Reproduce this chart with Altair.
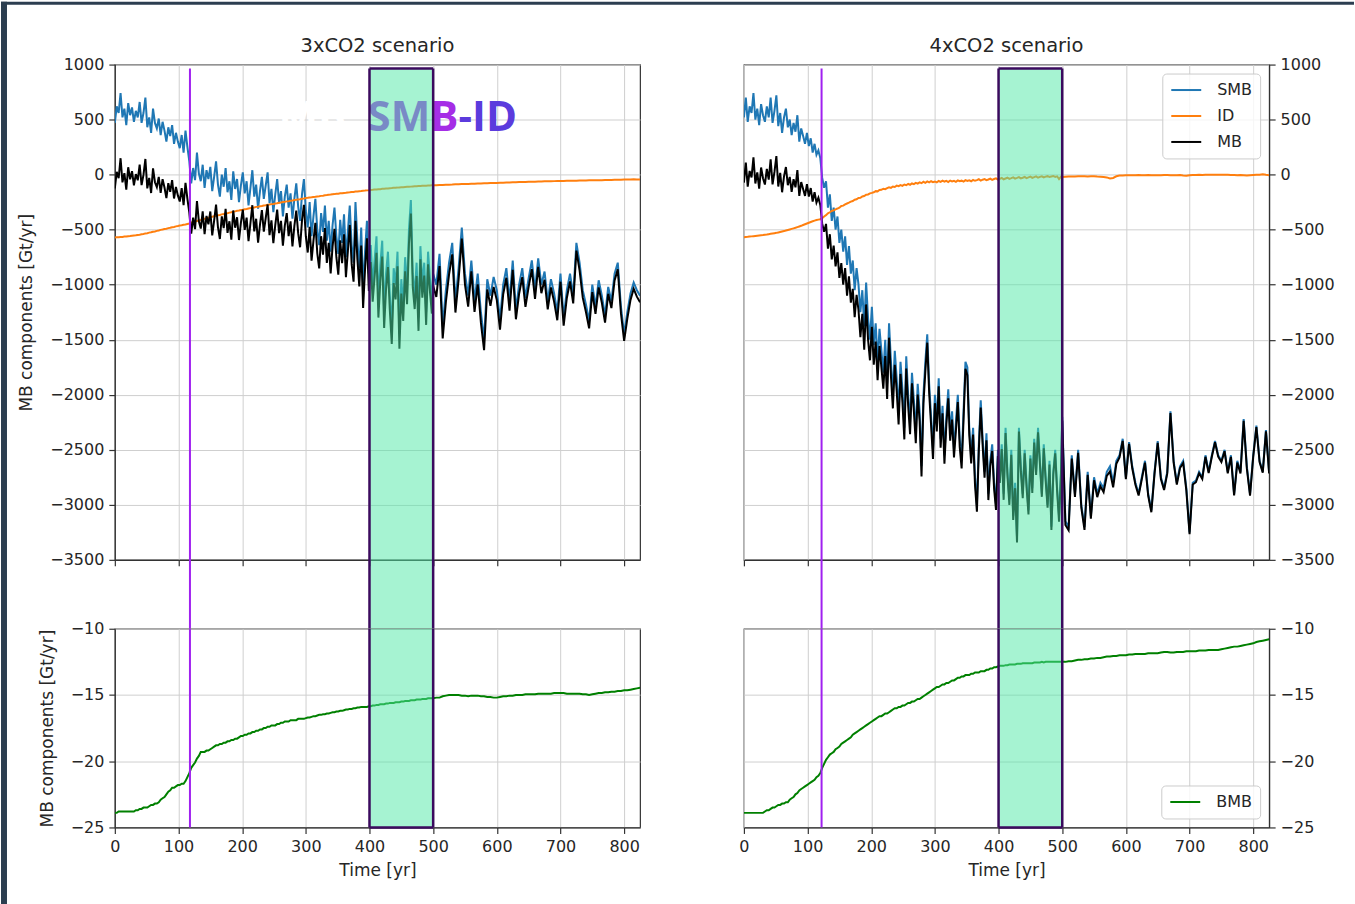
import altair as alt
import pandas as pd

# Model output years: every 3 years up to 498, every 5 years afterwards
years = list(range(0, 499, 3)) + list(range(500, 826, 5))

# ---------------- 3xCO2 scenario (Gt/yr) ----------------
smb_3x = [
    470, 620, 560, 740, 520, 600, 450, 650, 540, 610,
    480, 580, 520, 660, 470, 560, 700, 430, 520, 380,
    600, 470, 420, 510, 360, 480, 400, 300, 430, 350,
    450, 280, 380, 300, 240, 360, 200, 400, 250, 120,
    -80, 60, -50, 200, 10, -60, 90, -120, 40, -40,
    70, -150, -20, 120, -90, -200, 0, -110, 60, -160,
    -60, -230, 30, -130, -40, -250, -100, 20, -170, -60,
    -280, -120, 40, -200, -90, -310, -150, -20, -220, -100,
    20, -260, -130, -340, -180, -40, -260, -150, -380, -200,
    -90, -300, -170, -400, -220, -80, -290, -420, -180, -40,
    -330, -480, -250, -560, -380, -220, -500, -640, -350, -520,
    -280, -600, -420, -700, -460, -300, -560, -720, -410, -620,
    -360, -750, -520, -280, -640, -800, -250, -600, -850, -480,
    -1050, -700, -420, -900, -640, -1000, -780, -560, -1150, -820,
    -600, -1250, -900, -700, -1100, -1400, -850, -1000, -700, -1450,
    -950, -1200, -750, -1050, -500, -230, -900, -1100, -800, -1300,
    -650, -1000, -800, -1250, -700, -950, -1150,
    -900, -1000, -720, -1380, -1050, -800, -620, -1150, -850, -480,
    -900, -1100, -780, -1150, -900, -1250, -1500, -950, -1100, -930,
    -1050, -1320, -1000, -850, -1150, -780, -1230, -1000, -850, -1120,
    -940, -780, -1050, -760, -1000, -880, -1150, -950, -1080, -1250,
    -900, -1300, -1050, -900, -1100, -620, -800, -1050, -1180, -1330,
    -1000, -1200, -960, -1100, -1280, -1020, -1150, -900, -800, -1200,
    -1450, -1250, -1080, -980, -1050, -1100,
]
id_3x = [
    -572, -570, -569, -567, -566, -563, -562, -559, -558, -555,
    -553, -551, -548, -546, -542, -539, -534, -532, -527, -524,
    -519, -516, -511, -507, -502, -499, -494, -491, -486, -483,
    -478, -475, -470, -467, -463, -460, -455, -453, -448, -444,
    -436, -431, -425, -421, -415, -411, -405, -401, -396, -392,
    -386, -383, -378, -374, -369, -366, -361, -357, -352, -350,
    -345, -342, -337, -334, -329, -326, -321, -319, -314, -312,
    -307, -304, -300, -298, -293, -291, -287, -285, -280, -278,
    -274, -272, -268, -266, -262, -260, -255, -253, -249, -247,
    -243, -241, -237, -235, -231, -229, -225, -223, -219, -217,
    -213, -211, -208, -206, -203, -201, -198, -196, -193, -191,
    -188, -186, -183, -181, -178, -177, -174, -173, -170, -169,
    -166, -165, -162, -161, -158, -157, -154, -153, -150, -149,
    -146, -145, -143, -142, -139, -138, -136, -135, -133, -132,
    -129, -128, -126, -125, -123, -122, -120, -119, -118, -116,
    -115, -114, -112, -111, -110, -109, -107, -106, -105, -104,
    -103, -102, -101, -100, -99, -98, -97,
    -97, -96, -95, -94, -92, -91, -90, -88, -87, -86,
    -85, -84, -83, -82, -81, -80, -79, -78, -77, -76,
    -75, -74, -73, -72, -71, -70, -69, -68, -67, -66,
    -65, -64, -64, -63, -62, -61, -60, -60, -59, -58,
    -58, -57, -56, -56, -55, -55, -54, -53, -53, -52,
    -52, -51, -50, -50, -49, -48, -48, -47, -46, -46,
    -45, -44, -44, -43, -44, -45,
]
bmb_3x = [
    -23.9, -23.9, -23.8, -23.8, -23.8, -23.8, -23.8, -23.8, -23.8, -23.8,
    -23.8, -23.7, -23.7, -23.6, -23.6, -23.5, -23.5, -23.5, -23.4, -23.3,
    -23.3, -23.2, -23.2, -23.1, -22.9, -22.8, -22.7, -22.5, -22.3, -22.2,
    -22.0, -22.0, -21.9, -21.8, -21.8, -21.7, -21.7, -21.5, -21.2, -20.9,
    -20.5, -20.3, -20.1, -19.8, -19.6, -19.3, -19.3, -19.3, -19.2, -19.2,
    -19.1, -19.0, -18.9, -18.8, -18.8, -18.7, -18.7, -18.6, -18.6, -18.5,
    -18.5, -18.4, -18.4, -18.3, -18.3, -18.2, -18.1, -18.1, -18.0, -18.0,
    -17.9, -17.9, -17.8, -17.8, -17.7, -17.7, -17.6, -17.6, -17.5, -17.5,
    -17.4, -17.4, -17.3, -17.3, -17.3, -17.2, -17.2, -17.1, -17.1, -17.0,
    -17.0, -17.0, -16.9, -16.9, -16.9, -16.9, -16.8, -16.8, -16.8, -16.8,
    -16.75, -16.7, -16.7, -16.65, -16.6, -16.6, -16.55, -16.5, -16.5, -16.45,
    -16.45, -16.4, -16.4, -16.35, -16.3, -16.3, -16.25, -16.25, -16.2, -16.2,
    -16.15, -16.1, -16.1, -16.05, -16.05, -16.0, -16.0, -15.95, -15.95, -15.9,
    -15.9, -15.9, -15.9, -15.85, -15.85, -15.8, -15.8, -15.75, -15.75, -15.7,
    -15.7, -15.7, -15.65, -15.65, -15.6, -15.6, -15.6, -15.55, -15.55, -15.55,
    -15.5, -15.5, -15.45, -15.45, -15.45, -15.4, -15.4, -15.4, -15.35, -15.35,
    -15.35, -15.3, -15.3, -15.3, -15.25, -15.25, -15.25,
    -15.25, -15.2, -15.2, -15.1, -15.05, -15.0, -15.0, -15.0, -15.0, -15.05,
    -15.05, -15.1, -15.05, -15.05, -15.05, -15.1, -15.1, -15.15, -15.15, -15.2,
    -15.2, -15.15, -15.1, -15.1, -15.05, -15.05, -15.0, -15.0, -15.0, -14.95,
    -14.95, -14.95, -14.95, -14.9, -14.9, -14.9, -14.9, -14.9, -14.85, -14.85,
    -14.85, -14.85, -14.9, -14.9, -14.9, -14.9, -14.9, -14.95, -14.95, -15.0,
    -14.95, -14.9, -14.85, -14.85, -14.8, -14.8, -14.75, -14.75, -14.7, -14.7,
    -14.65, -14.65, -14.6, -14.55, -14.5, -14.45,
]

# ---------------- 4xCO2 scenario (Gt/yr) ----------------
smb_4x = [
    520, 700, 480, 620, 560, 740, 500, 600, 450, 640,
    540, 480, 620, 520, 700, 470, 580, 720, 440, 560,
    380, 520, 600, 430, 500, 360, 470, 390, 540, 300,
    420, 350, 280, 380, 260, 330, 200, 280, 180, 220,
    150, -30, -120, -60, -300, -180, -420, -300, -500, -380,
    -620, -500, -700, -560, -820, -650, -900, -780, -1050, -850,
    -1000, -1250, -1050, -1380, -980, -1300, -1500, -1200, -1550, -1350,
    -1700, -1400, -1600, -1800, -1500, -1900, -1350, -1700, -2000, -1600,
    -1850, -2150, -1700, -1950, -2300, -1650, -2000, -2250, -1800, -2050,
    -2350, -1900, -2150, -2650, -2000, -1700, -1450, -1900, -2200, -2500,
    -2000, -2250, -1850, -2400, -2100, -2550, -2200, -1950, -2350, -2150,
    -2500, -2250, -2000, -2400, -2600, -2150, -1700, -1750, -2300, -2550,
    -2300, -2750, -3000, -2450, -2050, -2400, -2700, -2350, -2900, -2600,
    -2450, -2800, -3000, -2500, -2750, -2450, -2900, -2300, -2700, -2950,
    -2500, -3100, -2800, -3300, -2300, -2650, -2900, -2500, -2800, -3050,
    -2550, -2850, -2400, -2700, -2300, -2600, -2900, -2450, -2750, -3000,
    -2600, -3200, -2700, -2500, -2850, -3100, -2700,
    -2200, -3150, -3200, -2550, -2900, -2500, -3000, -3200, -2700, -3100,
    -2750, -2900, -2800, -2850, -2700, -2650, -2800, -2600, -2550, -2400,
    -2750, -2430, -2650, -2800, -2900, -2750, -2600, -2900, -3050, -2700,
    -2420, -2750, -2850, -2700, -2150, -2600, -2800, -2650, -2600, -2850,
    -3250, -2800, -2780, -2700, -2750, -2550, -2700, -2550, -2420, -2550,
    -2600, -2500, -2700, -2550, -2900, -2600, -2700, -2220, -2650, -2900,
    -2550, -2280, -2600, -2700, -2320, -2700,
]
id_4x = [
    -568, -566, -565, -563, -561, -559, -557, -555, -553, -551,
    -549, -546, -544, -541, -538, -535, -532, -529, -525, -521,
    -517, -513, -508, -503, -498, -493, -488, -483, -477, -471,
    -465, -458, -451, -444, -437, -430, -424, -418, -413, -409,
    -405, -395, -380, -368, -352, -342, -330, -325, -315, -308,
    -300, -285, -282, -270, -262, -255, -245, -240, -228, -224,
    -212, -210, -198, -194, -182, -180, -170, -166, -160, -150,
    -152, -140, -138, -128, -132, -122, -115, -120, -108, -112,
    -100, -105, -95, -102, -90, -96, -84, -92, -80, -86,
    -75, -82, -70, -78, -65, -74, -62, -70, -60, -68,
    -62, -70, -58, -66, -55, -63, -57, -68, -54, -62,
    -56, -65, -52, -60, -55, -63, -50, -58, -52, -60,
    -48, -56, -50, -42, -54, -46, -40, -50, -44, -36,
    -48, -40, -34, -45, -38, -30, -42, -35, -28, -38,
    -32, -25, -36, -30, -22, -34, -28, -20, -32, -25,
    -18, -30, -22, -16, -28, -20, -15, -25, -18, -14,
    -22, -17, -12, -20, -15, -40, -18,
    -22, -20, -18, -17, -16, -15, -14, -15, -16, -14,
    -15, -18, -20, -22, -25, -35, -30, -15, -8, -7,
    -6, -5, -6, -5, -4, -6, -5, -4, -6, -5,
    -6, -5, -4, -3, -5, -6, -5, -4, -8, -10,
    -6, -4, -3, -2, -3, -2, -1, -2, 0, -1,
    0, -1, -2, -3, -4, -5, -4, -6, -8, -6,
    -4, -2, 0, 3, -2, -5,
]
bmb_4x = [
    -23.9, -23.9, -23.9, -23.9, -23.9, -23.9, -23.9, -23.9, -23.9, -23.9,
    -23.9, -23.8, -23.7, -23.7, -23.6, -23.5, -23.5, -23.4, -23.3, -23.3,
    -23.2, -23.2, -23.1, -23.1, -22.9, -22.8, -22.7, -22.5, -22.4, -22.2,
    -22.1, -22.0, -21.9, -21.8, -21.7, -21.6, -21.5, -21.4, -21.2, -21.1,
    -20.9, -20.5, -20.2, -19.9, -19.7, -19.5, -19.4, -19.3, -19.1, -19.0,
    -18.9, -18.7, -18.6, -18.5, -18.4, -18.3, -18.2, -18.0, -17.9, -17.8,
    -17.7, -17.6, -17.5, -17.4, -17.3, -17.2, -17.1, -17.0, -16.9, -16.8,
    -16.7, -16.6, -16.6, -16.5, -16.4, -16.4, -16.3, -16.2, -16.1, -16.0,
    -16.0, -15.9, -15.9, -15.8, -15.8, -15.7, -15.6, -15.6, -15.5, -15.5,
    -15.4, -15.3, -15.3, -15.2, -15.1, -15.0, -14.9, -14.8, -14.7, -14.6,
    -14.5, -14.4, -14.4, -14.3, -14.2, -14.2, -14.1, -14.1, -14.0, -13.9,
    -13.9, -13.8, -13.7, -13.7, -13.6, -13.6, -13.5, -13.5, -13.5, -13.4,
    -13.4, -13.3, -13.3, -13.3, -13.2, -13.2, -13.2, -13.1, -13.1, -13.0,
    -13.0, -12.9, -12.9, -12.85, -12.8, -12.8, -12.8, -12.75, -12.75, -12.7,
    -12.7, -12.7, -12.7, -12.65, -12.65, -12.65, -12.6, -12.6, -12.6, -12.6,
    -12.6, -12.6, -12.55, -12.55, -12.55, -12.55, -12.5, -12.55, -12.5, -12.5,
    -12.5, -12.5, -12.5, -12.5, -12.5, -12.5, -12.5,
    -12.5, -12.5, -12.45, -12.45, -12.4, -12.35, -12.35, -12.3, -12.3, -12.25,
    -12.25, -12.2, -12.2, -12.15, -12.1, -12.1, -12.05, -12.05, -12.0, -12.0,
    -12.0, -11.95, -11.95, -11.9, -11.9, -11.9, -11.9, -11.85, -11.85, -11.85,
    -11.85, -11.8, -11.75, -11.75, -11.8, -11.8, -11.75, -11.75, -11.75, -11.7,
    -11.7, -11.7, -11.7, -11.65, -11.65, -11.65, -11.6, -11.6, -11.6, -11.6,
    -11.55, -11.5, -11.45, -11.4, -11.35, -11.35, -11.3, -11.25, -11.2, -11.15,
    -11.1, -11.0, -10.95, -10.9, -10.85, -10.8,
]

for series in (smb_3x, id_3x, bmb_3x, smb_4x, id_4x, bmb_4x):
    assert len(series) == len(years)

onset_year = {"3xCO2": 118, "4xCO2": 122}
window_start, window_end = 400, 500

SERIES = ["SMB", "ID", "MB"]
SERIES_COLORS = ["#1f77b4", "#ff7f0e", "#000000"]
BMB_COLOR = "#008000"
ONSET_COLOR = "#a020f0"
WINDOW_FILL = "#4ee8a6"
WINDOW_EDGE = "#3b0a5e"
FONT = "DejaVu Sans"
TEXT_COLOR = "#262626"

x_ticks = list(range(0, 801, 100))
top_ticks = list(range(-3500, 1001, 500))
bottom_ticks = [-25, -20, -15, -10]

# layout (pixels)
PANEL_W, TOP_H, BOT_H = 526, 496, 199
ROW_GAP, COL_GAP = 69, 104
LEFT_MARGIN = 114
LOWER_TOP = 63 + TOP_H + ROW_GAP     # page y of the lower panels' top edge
PAGE_W, PAGE_H = 1355, 904

X_DOMAIN = [0, 825]
TOP_DOMAIN = [-3500, 1000]
BOT_DOMAIN = [-25, -10]

units_per_px = (TOP_DOMAIN[1] - TOP_DOMAIN[0]) / TOP_H
box_top = TOP_DOMAIN[1] - 4 * units_per_px          # outline starts just under the frame
box_join = TOP_DOMAIN[0] - ROW_GAP * units_per_px    # continues down to the lower panel

MINUS = "replace(datum.label, '-', '\u2212')"


def legend_for(orient):
    return alt.Legend(
        title=None, orient=orient, offset=9, padding=8, cornerRadius=4,
        fillColor="rgba(255,255,255,0.8)", strokeColor="#cccccc",
        labelFont=FONT, labelFontSize=16, labelColor=TEXT_COLOR,
        symbolType="M-1,0H3", symbolSize=225, symbolStrokeWidth=2,
        rowPadding=9, labelOffset=30,
    )


def x_encoding(with_labels):
    return alt.X(
        "year:Q",
        scale=alt.Scale(domain=X_DOMAIN, nice=False, zero=False),
        axis=alt.Axis(
            values=x_ticks,
            labels=with_labels,
            labelFlush=False,
            title="Time [yr]" if with_labels else None,
            titlePadding=8,
        ),
    )


def y_axis(ticks, right):
    return alt.Axis(
        values=ticks,
        format="d",
        labelExpr=MINUS,
        orient="right" if right else "left",
        title=None if right else "MB components [Gt/yr]",
        titlePadding=14,
    )


def top_panel(name, smb, dis, bmb, right):
    mb = [s + d + b for s, d, b in zip(smb, dis, bmb)]
    n = len(years)
    df = pd.DataFrame({
        "year": years * 3,
        "value": smb + dis + mb,
        "series": ["SMB"] * n + ["ID"] * n + ["MB"] * n,
    })
    x = x_encoding(False)
    yscale = alt.Scale(domain=TOP_DOMAIN, nice=False, zero=False)
    yax = y_axis(top_ticks, right)
    y = alt.Y("value:Q", scale=yscale, axis=yax)
    color = alt.Color("series:N", scale=alt.Scale(domain=SERIES, range=SERIES_COLORS),
                      legend=legend_for("top-right") if right else None)

    layers = []
    for s in SERIES:
        layers.append(
            alt.Chart(df).transform_filter(alt.datum.series == s)
            .mark_line(strokeWidth=2, clip=True)
            .encode(x=x, y=y, color=color)
        )

    if not right:
        label_df = pd.DataFrame({"year": [257, 397, 540], "value": [392, 392, 392],
                                 "label": ["MB", "SMB", "-ID"]})
        for label, col in (("MB", "#ffffff"), ("SMB", "#a52de6"), ("-ID", "#5b3bdd")):
            layers.append(
                alt.Chart(label_df).transform_filter(alt.datum.label == label)
                .mark_text(font="Open Sans", fontSize=42, fontWeight="bold", color=col,
                           align="left", baseline="alphabetic", clip=False)
                .encode(x=x, y=y, text="label:N")
            )

    span = pd.DataFrame({"year": [onset_year[name]], "top": [box_top], "bottom": [box_join]})
    layers.append(
        alt.Chart(span).mark_rule(color=ONSET_COLOR, strokeWidth=2, clip=False)
        .encode(x=x, y=alt.Y("top:Q", scale=yscale, axis=yax), y2="bottom:Q")
    )

    win = pd.DataFrame({"year": [window_start], "year_end": [window_end],
                        "top": [box_top], "bottom": [box_join]})
    edges = pd.DataFrame({"year": [window_start, window_end],
                          "top": [box_top] * 2, "bottom": [box_join] * 2})
    layers.append(
        alt.Chart(win).mark_rect(color=WINDOW_FILL, opacity=0.5, clip=False)
        .encode(x=x, x2="year_end:Q", y=alt.Y("top:Q", scale=yscale, axis=yax), y2="bottom:Q")
    )
    layers.append(
        alt.Chart(edges).mark_rule(color=WINDOW_EDGE, strokeWidth=2.5, clip=False)
        .encode(x=x, y=alt.Y("top:Q", scale=yscale, axis=yax), y2="bottom:Q")
    )
    layers.append(
        alt.Chart(win).mark_rule(color=WINDOW_EDGE, strokeWidth=2.5, clip=False)
        .encode(x=x, x2="year_end:Q", y=alt.Y("top:Q", scale=yscale, axis=yax))
    )

    return alt.layer(*layers).properties(
        width=PANEL_W, height=TOP_H,
        title=alt.TitleParams(f"{name} scenario", font=FONT, fontSize=19.5, fontWeight="normal",
                              color=TEXT_COLOR, frame="group", anchor="middle", offset=0),
    )


def bottom_panel(name, bmb, right):
    df = pd.DataFrame({"year": years, "value": bmb, "series": ["BMB"] * len(years)})
    x = x_encoding(True)
    yscale = alt.Scale(domain=BOT_DOMAIN, nice=False, zero=False)
    yax = y_axis(bottom_ticks, right)
    y = alt.Y("value:Q", scale=yscale, axis=yax)
    color = alt.Color("series:N", scale=alt.Scale(domain=["BMB"], range=[BMB_COLOR]),
                      legend=legend_for("bottom-right") if right else None)

    layers = [alt.Chart(df).mark_line(strokeWidth=2, clip=True).encode(x=x, y=y, color=color)]

    span = pd.DataFrame({"year": [onset_year[name]], "top": [BOT_DOMAIN[1]], "bottom": [BOT_DOMAIN[0]]})
    layers.append(alt.Chart(span).mark_rule(color=ONSET_COLOR, strokeWidth=2, clip=False).encode(
        x=x, y=alt.Y("top:Q", scale=yscale, axis=yax), y2="bottom:Q"))

    win = pd.DataFrame({"year": [window_start], "year_end": [window_end],
                        "top": [BOT_DOMAIN[1]], "bottom": [BOT_DOMAIN[0]]})
    edges = pd.DataFrame({"year": [window_start, window_end],
                          "top": [BOT_DOMAIN[1]] * 2, "bottom": [BOT_DOMAIN[0]] * 2})
    layers.append(alt.Chart(win).mark_rect(color=WINDOW_FILL, opacity=0.5, clip=False).encode(
        x=x, x2="year_end:Q", y=alt.Y("top:Q", scale=yscale, axis=yax), y2="bottom:Q"))
    layers.append(alt.Chart(edges).mark_rule(color=WINDOW_EDGE, strokeWidth=2.5, clip=False).encode(
        x=x, y=alt.Y("top:Q", scale=yscale, axis=yax), y2="bottom:Q"))
    layers.append(alt.Chart(win).mark_rule(color=WINDOW_EDGE, strokeWidth=2.5, clip=False).encode(
        x=x, x2="year_end:Q", y=alt.Y("bottom:Q", scale=yscale, axis=yax)))

    if not right:
        # dark page border along the left and top edges of the page
        border = pd.DataFrame({"k": [0]})
        layers.append(
            alt.Chart(border).mark_rect(color="#2c3e50", clip=False).encode(
                x=alt.value(-LEFT_MARGIN), x2=alt.value(-LEFT_MARGIN + 6),
                y=alt.value(-LOWER_TOP), y2=alt.value(PAGE_H - LOWER_TOP))
        )
        layers.append(
            alt.Chart(border).mark_rect(color="#2c3e50", clip=False).encode(
                x=alt.value(-LEFT_MARGIN), x2=alt.value(PAGE_W - LEFT_MARGIN),
                y=alt.value(-LOWER_TOP), y2=alt.value(-LOWER_TOP + 3))
        )

    return alt.layer(*layers).properties(width=PANEL_W, height=BOT_H)


chart = (
    alt.concat(
        top_panel("3xCO2", smb_3x, id_3x, bmb_3x, right=False),
        top_panel("4xCO2", smb_4x, id_4x, bmb_4x, right=True),
        bottom_panel("3xCO2", bmb_3x, right=False),
        bottom_panel("4xCO2", bmb_4x, right=True),
        columns=2,
        spacing={"row": ROW_GAP, "column": COL_GAP},
        bounds="flush",
    )
    .resolve_scale(color="independent")
    .properties(padding=0, background="white")
    .configure_view(stroke="#333333", strokeWidth=1.2)
    .configure_axis(
        labelFont=FONT, labelFontSize=16, labelColor=TEXT_COLOR,
        titleFont=FONT, titleFontSize=17, titleFontWeight="normal", titleColor=TEXT_COLOR,
        tickColor="#333333", tickSize=6, tickWidth=1.2, domainColor="#333333", domainWidth=1.2,
        gridColor="#cfcfcf", gridWidth=1, labelPadding=5,
    )
)

chart.save("out.html", embed_options={"renderer": "svg", "actions": False})
